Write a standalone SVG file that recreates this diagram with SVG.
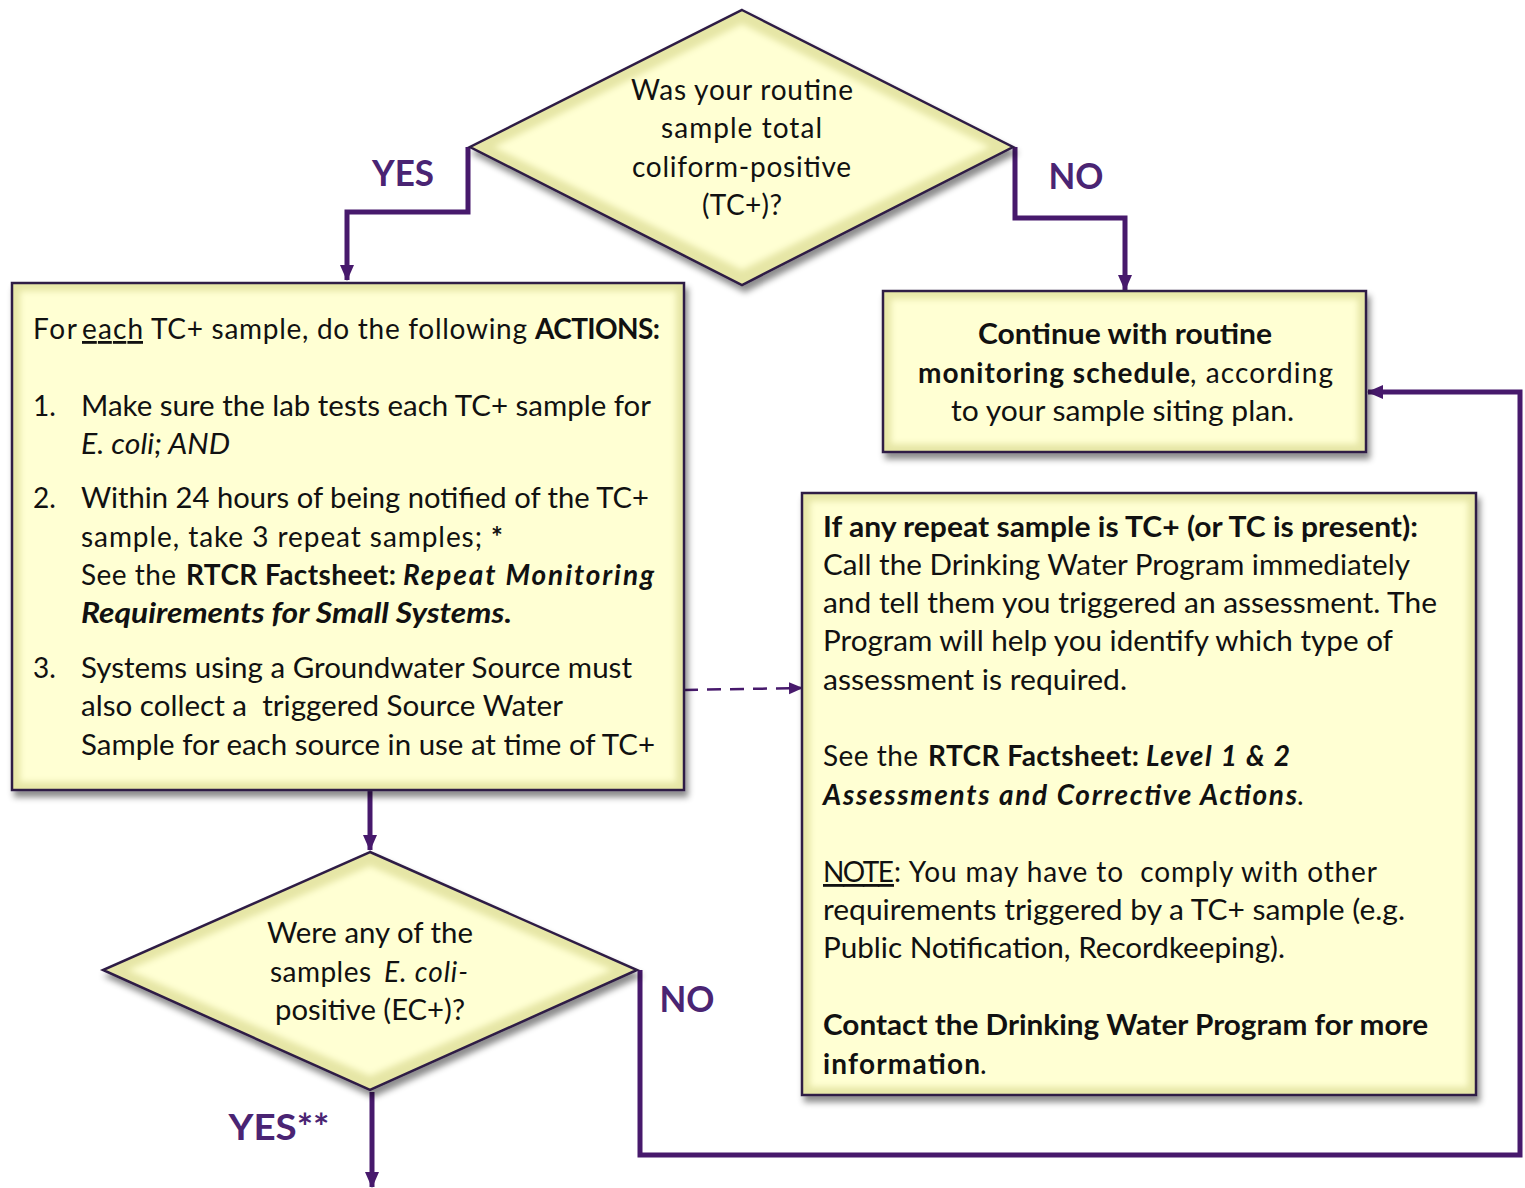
<svg xmlns="http://www.w3.org/2000/svg" width="1525" height="1188" viewBox="0 0 1525 1188">
<style>
.t{font-family:Lato,"Open Sans","Liberation Sans",sans-serif;font-size:28px;fill:#111;}
.b{font-weight:bold;}
.i{font-style:italic;}
.lbl{font-family:Lato,"Open Sans","Liberation Sans",sans-serif;font-size:36px;font-weight:bold;fill:#4a2473;text-anchor:middle;}
.edge{fill:#e6e6a6;stroke:#2e1c45;stroke-width:2.5;}
.face{fill:#ffffd3;}
.conn{fill:none;stroke:#47196c;stroke-width:5;}
.dash{fill:none;stroke:#47196c;stroke-width:2.5;stroke-dasharray:14 9;}
</style>
<defs>
<filter id="sh" x="-10%" y="-10%" width="125%" height="130%">
<feDropShadow dx="3" dy="6" stdDeviation="3" flood-color="#000" flood-opacity="0.45"/>
</filter>
<filter id="soft" x="-5%" y="-5%" width="110%" height="110%">
<feGaussianBlur stdDeviation="3"/>
</filter>
<marker id="ah" markerUnits="userSpaceOnUse" viewBox="0 0 16 16" markerWidth="16" markerHeight="16" refX="15" refY="8" orient="auto">
<path d="M0,1 L16,8 L0,15 z" fill="#47196c"/>
</marker>
<marker id="ahs" markerUnits="userSpaceOnUse" viewBox="0 0 14 14" markerWidth="14" markerHeight="14" refX="13" refY="7" orient="auto">
<path d="M0,1 L14,7 L0,13 z" fill="#47196c"/>
</marker>
</defs>
<rect width="1525" height="1188" fill="#fff"/>

<g id="connectors">
<path class="conn" d="M468,147 V212 H347 V280" marker-end="url(#ah)"/>
<path class="conn" d="M1015,147 V218 H1125 V290" marker-end="url(#ah)"/>
<path class="conn" d="M370,790 V850" marker-end="url(#ah)"/>
<path class="conn" d="M372,1092 V1187" marker-end="url(#ah)"/>
<path class="conn" d="M640,970 V1155 H1520 V392 H1368" marker-end="url(#ah)"/>
<path class="dash" d="M684,690 L802,688" marker-end="url(#ahs)"/>
<text class="lbl" x="403" y="186" textLength="62" lengthAdjust="spacingAndGlyphs">YES</text>
<text class="lbl" x="1076" y="189" textLength="55" lengthAdjust="spacingAndGlyphs">NO</text>
<text class="lbl" x="687" y="1012" textLength="55" lengthAdjust="spacingAndGlyphs">NO</text>
<text class="lbl" x="279" y="1140" textLength="101" lengthAdjust="spacingAndGlyphs">YES**</text>
</g>

<g id="decision1">
<polygon class="edge" filter="url(#sh)" points="742,10 1013,147 742,285 470,147"/>
<polygon class="face" filter="url(#soft)" points="742,24 990,147 742,270 494,147"/>
<text class="t" lengthAdjust="spacingAndGlyphs">
<tspan x="631" y="100" textLength="222">Was your routine</tspan>
<tspan x="661" y="138" textLength="161">sample total</tspan>
<tspan x="632" y="177" textLength="219">coliform-positive</tspan>
<tspan x="702" y="215" textLength="80">(TC+)?</tspan>
</text>
</g>

<g id="actions">
<rect class="edge" filter="url(#sh)" x="12" y="283" width="672" height="507"/>
<rect class="face" filter="url(#soft)" x="20" y="291" width="656" height="491"/>
<text class="t" lengthAdjust="spacingAndGlyphs"><tspan x="33" y="339" textLength="44">For</tspan><tspan x="82" y="339" textLength="61" text-decoration="underline">each</tspan><tspan x="151" y="339" textLength="376">TC+ sample, do the following</tspan><tspan x="535" y="339" textLength="125" class="b">ACTIONS:</tspan></text>
<text class="t" x="33" y="416">1.</text>
<text class="t" x="81" y="416" textLength="570" lengthAdjust="spacingAndGlyphs">Make sure the lab tests each TC+ sample for</text>
<text class="t i" x="81" y="454" textLength="149" lengthAdjust="spacingAndGlyphs">E. coli; AND</text>
<text class="t" x="33" y="508">2.</text>
<text class="t" x="81" y="508" textLength="568" lengthAdjust="spacingAndGlyphs">Within 24 hours of being notified of the TC+</text>
<text class="t" lengthAdjust="spacingAndGlyphs"><tspan x="81" y="547" textLength="401">sample, take 3 repeat samples;</tspan><tspan x="491" y="547" textLength="13" class="b">*</tspan></text>
<text class="t" lengthAdjust="spacingAndGlyphs"><tspan x="81" y="585" textLength="95">See the</tspan><tspan x="186" y="585" textLength="210" class="b">RTCR Factsheet:</tspan><tspan x="403" y="585" textLength="251" class="b i">Repeat Monitoring</tspan></text>
<text class="t b i" x="81" y="623" textLength="431" lengthAdjust="spacingAndGlyphs">Requirements for Small Systems.</text>
<text class="t" x="33" y="678">3.</text>
<text class="t" x="81" y="678" textLength="551" lengthAdjust="spacingAndGlyphs">Systems using a Groundwater Source must</text>
<text class="t" x="81" y="716" textLength="482" lengthAdjust="spacingAndGlyphs" xml:space="preserve">also collect a  triggered Source Water</text>
<text class="t" x="81" y="755" textLength="574" lengthAdjust="spacingAndGlyphs">Sample for each source in use at time of TC+</text>
</g>

<g id="continue">
<rect class="edge" filter="url(#sh)" x="883" y="291" width="483" height="161"/>
<rect class="face" filter="url(#soft)" x="891" y="299" width="467" height="145"/>
<text class="t b" x="978" y="344" textLength="294" lengthAdjust="spacingAndGlyphs">Continue with routine</text>
<text class="t" lengthAdjust="spacingAndGlyphs"><tspan x="918" y="383" textLength="272" class="b">monitoring schedule</tspan><tspan x="1190" y="383" textLength="143">, according</tspan></text>
<text class="t" x="951" y="421" textLength="343" lengthAdjust="spacingAndGlyphs">to your sample siting plan.</text>
</g>

<g id="assessment">
<rect class="edge" filter="url(#sh)" x="802" y="493" width="674" height="602"/>
<rect class="face" filter="url(#soft)" x="810" y="501" width="658" height="586"/>
<text class="t b" x="823" y="537" textLength="595" lengthAdjust="spacingAndGlyphs">If any repeat sample is TC+ (or TC is present):</text>
<text class="t" x="823" y="575" textLength="587" lengthAdjust="spacingAndGlyphs">Call the Drinking Water Program immediately</text>
<text class="t" x="823" y="613" textLength="614" lengthAdjust="spacingAndGlyphs">and tell them you triggered an assessment. The</text>
<text class="t" x="823" y="651" textLength="570" lengthAdjust="spacingAndGlyphs">Program will help you identify which type of</text>
<text class="t" x="823" y="690" textLength="304" lengthAdjust="spacingAndGlyphs">assessment is required.</text>
<text class="t" lengthAdjust="spacingAndGlyphs"><tspan x="823" y="766" textLength="95">See the</tspan><tspan x="928" y="766" textLength="211" class="b">RTCR Factsheet:</tspan><tspan x="1146" y="766" textLength="144" class="b i">Level 1 &amp; 2</tspan></text>
<text class="t" lengthAdjust="spacingAndGlyphs"><tspan x="823" y="805" textLength="474" class="b i">Assessments and Corrective Actions</tspan><tspan x="1297" y="805" textLength="6">.</tspan></text>
<text class="t" lengthAdjust="spacingAndGlyphs" xml:space="preserve"><tspan x="823" y="882" textLength="71" text-decoration="underline">NOTE</tspan><tspan x="894" y="882" textLength="483">: You may have to  comply with other</tspan></text>
<text class="t" x="823" y="920" textLength="582" lengthAdjust="spacingAndGlyphs">requirements triggered by a TC+ sample (e.g.</text>
<text class="t" x="823" y="958" textLength="462" lengthAdjust="spacingAndGlyphs">Public Notification, Recordkeeping).</text>
<text class="t b" x="823" y="1035" textLength="605" lengthAdjust="spacingAndGlyphs">Contact the Drinking Water Program for more</text>
<text class="t" lengthAdjust="spacingAndGlyphs"><tspan x="823" y="1074" textLength="157" class="b">information</tspan><tspan x="980" y="1074" textLength="7">.</tspan></text>
</g>

<g id="decision2">
<polygon class="edge" filter="url(#sh)" points="370,852 637,970 370,1090 103,970"/>
<polygon class="face" filter="url(#soft)" points="370,866 612,970 370,1076 128,970"/>
<text class="t" x="267" y="943" textLength="206" lengthAdjust="spacingAndGlyphs">Were any of the</text>
<text class="t" lengthAdjust="spacingAndGlyphs"><tspan x="270" y="982" textLength="101">samples</tspan><tspan x="384" y="982" textLength="84" class="i">E. coli-</tspan></text>
<text class="t" x="275" y="1020" textLength="190" lengthAdjust="spacingAndGlyphs">positive (EC+)?</text>
</g>
</svg>
